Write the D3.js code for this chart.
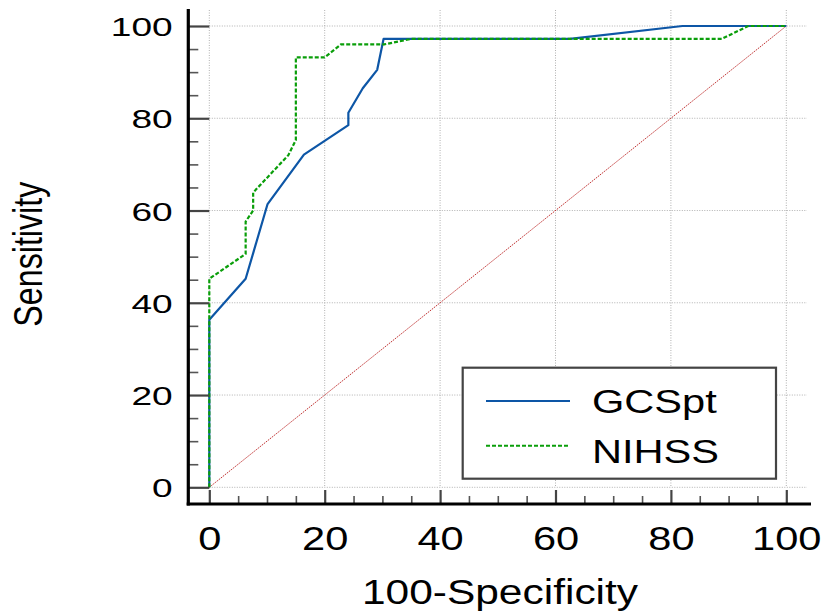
<!DOCTYPE html>
<html>
<head>
<meta charset="utf-8">
<script src="https://cdn.jsdelivr.net/npm/d3@7"></script>
<style>
  html, body { margin: 0; padding: 0; background: #fff; }
  svg { display: block; }
  text { font-family: "Liberation Sans", Arial, Helvetica, sans-serif; fill: #000; }
</style>
</head>
<body>
<svg id="chart" width="823" height="614"></svg>
<script>
// ---- data ----
const seriesNames = ["GCSpt", "NIHSS"];
const gcsptX = [0, 0, 6.3, 10.1, 16.4, 24.1, 24.1, 26.6, 29.1, 30.2, 62.5, 82.0, 100];
const gcsptY = [0, 36.3, 45.2, 61.4, 72.1, 78.5, 81.2, 86.5, 90.5, 97.2, 97.2, 100, 100];
const nihssX = [0, 0, 6.3, 6.3, 7.6, 7.6, 13.7, 15.0, 15.0, 20.0, 22.8, 30.3, 35.0, 88.8, 93.4, 100];
const nihssY = [0, 45.2, 50.6, 57.6, 60.0, 63.9, 72.0, 75.3, 93.2, 93.2, 96.0, 96.0, 97.2, 97.2, 100, 100];
const refX = [0, 100];
const refY = [0, 100];
const majorTicks = [0, 20, 40, 60, 80, 100];
const minorTicks = [5, 10, 15, 25, 30, 35, 45, 50, 55, 65, 70, 75, 85, 90, 95];
const xTitle = "100-Specificity";
const yTitle = "Sensitivity";

// ---- layout ----
const svg = d3.select("#chart");
const x = d3.scaleLinear().domain([0, 100]).range([209.3, 786.3]);
const y = d3.scaleLinear().domain([0, 100]).range([487.3, 26]);
const yAxisX = 188.3, xAxisY = 504;

// grid
const grid = svg.append("g").attr("stroke", "#b0b0b0").attr("stroke-width", 1).attr("stroke-dasharray", "1,1.5");
grid.selectAll("line.v").data(majorTicks).join("line").attr("class", "v")
  .attr("x1", d => x(d)).attr("x2", d => x(d)).attr("y1", 10).attr("y2", y(0));
grid.selectAll("line.h").data(majorTicks).join("line").attr("class", "h")
  .attr("x1", x(0)).attr("x2", 807).attr("y1", d => y(d)).attr("y2", d => y(d));

// reference diagonal
svg.append("path")
  .attr("d", d3.line()(refX.map((v, i) => [x(v), y(refY[i])])))
  .attr("fill", "none").attr("stroke", "#c03030").attr("stroke-width", 1)
  .attr("stroke-dasharray", "1.5,1");

// curves
const line = d3.line();
svg.append("path")
  .attr("d", line(gcsptX.map((v, i) => [x(v), y(gcsptY[i])])))
  .attr("fill", "none").attr("stroke", "#0d56a6").attr("stroke-width", 2.2)
  .attr("stroke-linejoin", "round");
svg.append("path")
  .attr("d", line(nihssX.map((v, i) => [x(v), y(nihssY[i])])))
  .attr("fill", "none").attr("stroke", "#0a9e0a").attr("stroke-width", 2.2)
  .attr("stroke-dasharray", "4,2");

// y axis
const yMinor = svg.append("g").attr("transform", `translate(${yAxisX},0)`)
  .call(d3.axisLeft(y).tickValues(minorTicks).tickSize(-10).tickFormat(""));
yMinor.select(".domain").remove();
yMinor.selectAll("line").attr("stroke", "#555").attr("stroke-width", 1.6);

const yMajor = svg.append("g").attr("transform", `translate(${yAxisX},0)`)
  .call(d3.axisLeft(y).tickValues(majorTicks).tickSize(-21).tickFormat(d3.format("d")));
yMajor.select(".domain").remove();
yMajor.selectAll("line").attr("stroke", "#444").attr("stroke-width", 2.2);
yMajor.selectAll("text")
  .attr("x", null).attr("dy", null)
  .attr("font-size", 26.5)
  .attr("text-anchor", "end")
  .attr("transform", "translate(-15.6,9.5) scale(1.4,1)");

// x axis
const xMinor = svg.append("g").attr("transform", `translate(0,${xAxisY})`)
  .call(d3.axisBottom(x).tickValues(minorTicks).tickSize(-8).tickFormat(""));
xMinor.select(".domain").remove();
xMinor.selectAll("line").attr("stroke", "#555").attr("stroke-width", 1.6);

const xMajor = svg.append("g").attr("transform", `translate(0,${xAxisY})`)
  .call(d3.axisBottom(x).tickValues(majorTicks).tickSize(-14).tickFormat(d3.format("d")));
xMajor.select(".domain").remove();
xMajor.selectAll("line").attr("stroke", "#444").attr("stroke-width", 2.2);
xMajor.selectAll("text")
  .attr("y", null).attr("dy", null)
  .attr("font-size", 32.5)
  .attr("text-anchor", "middle")
  .attr("transform", "translate(0,46) scale(1.28,1)");

// axis lines
svg.append("line").attr("x1", yAxisX).attr("x2", yAxisX).attr("y1", 9).attr("y2", 505.5)
  .attr("stroke", "#000").attr("stroke-width", 3.2);
svg.append("line").attr("x1", 186.7).attr("x2", 811).attr("y1", xAxisY).attr("y2", xAxisY)
  .attr("stroke", "#000").attr("stroke-width", 3);

// axis titles
svg.append("text").text(xTitle)
  .attr("font-size", 36).attr("text-anchor", "middle")
  .attr("transform", "translate(500,604) scale(1.18,1)");
svg.append("text").text(yTitle)
  .attr("font-size", 32.2).attr("text-anchor", "middle")
  .attr("transform", "translate(41.7,254.2) scale(1.26,1) rotate(-90)");

// legend
const lg = svg.append("g");
lg.append("rect").attr("x", 462.7).attr("y", 367.7).attr("width", 313.3).attr("height", 111)
  .attr("fill", "#fff").attr("stroke", "#444").attr("stroke-width", 2.2);
const legendColors = ["#0d56a6", "#0a9e0a"];
const legendDash = [null, "4,2"];
const legendLineY = [401, 445.7];
const legendTextY = [413.3, 463.3];
seriesNames.forEach((name, i) => {
  lg.append("line").attr("x1", 486).attr("x2", 570)
    .attr("y1", legendLineY[i]).attr("y2", legendLineY[i])
    .attr("stroke", legendColors[i]).attr("stroke-width", 2)
    .attr("stroke-dasharray", legendDash[i]);
  lg.append("text").text(name)
    .attr("font-size", 32.5)
    .attr("transform", `translate(592,${legendTextY[i]}) scale(1.28,1)`);
});
</script>
</body>
</html>
